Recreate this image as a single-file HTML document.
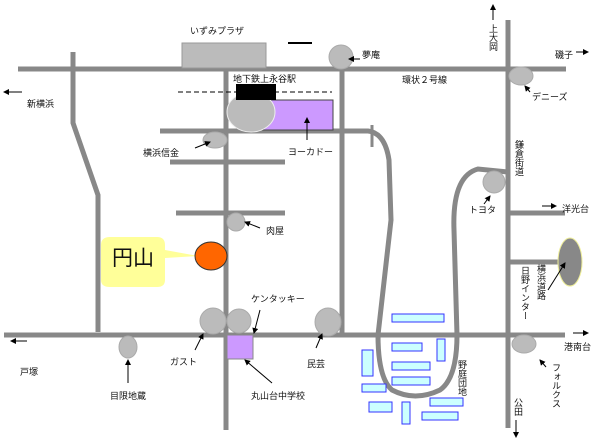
<!DOCTYPE html>
<html><head><meta charset="utf-8"><style>
html,body{margin:0;padding:0;background:#fff}
svg{display:block}
text{font-family:"Liberation Sans","Noto Sans CJK JP",sans-serif;font-size:9px;fill:#111}
</style></head><body>
<svg width="600" height="443" viewBox="0 0 600 443" xmlns="http://www.w3.org/2000/svg">
<defs><marker id="a" markerWidth="6" markerHeight="6" refX="5" refY="3" orient="auto"><path d="M0,0L6,3L0,6z" fill="#000"/></marker></defs>
<g stroke="#888" stroke-width="5" fill="none">
<line x1="18" y1="69" x2="566" y2="69"/>
<polyline points="73,52 73,123 98,195 98,332"/>
<line x1="226" y1="69" x2="226" y2="430"/>
<line x1="342" y1="69" x2="342" y2="335"/>
<line x1="508" y1="20" x2="508" y2="428"/>
<line x1="4" y1="335" x2="565" y2="335"/>
<line x1="160" y1="131" x2="345" y2="131"/>
<line x1="170" y1="162" x2="285" y2="162"/>
<line x1="176" y1="213" x2="285" y2="213"/>
<line x1="508" y1="213" x2="565" y2="213"/>
<line x1="508" y1="262" x2="558" y2="262"/>
<path d="M345,131 L368,131 Q385,133 389,160 L391,220 L378,335 Q378,378 392,390 Q415,402 440,390 Q457,378 457,335 L454,230 Q452,176 478,169 L508,172"/>
<line x1="372" y1="125" x2="372" y2="147" stroke-width="3"/>
</g>
<rect x="182" y="43" width="84" height="25" fill="#bbb" stroke="#999"/>
<line x1="288" y1="43" x2="312" y2="43" stroke="#000" stroke-width="2"/>
<line x1="178" y1="92" x2="332" y2="92" stroke="#000" stroke-dasharray="5,3"/>
<rect x="262" y="100" width="71" height="30" fill="#cc99ff" stroke="#444"/>
<ellipse cx="251" cy="112" rx="24" ry="20" fill="#bbb" stroke="#eee"/>
<rect x="236" y="84" width="40" height="16" fill="#000"/>
<g fill="#bbb" stroke="#aaa">
<circle cx="341" cy="57" r="12"/>
<ellipse cx="521" cy="76" rx="12" ry="9"/>
<circle cx="494" cy="182" r="11"/>
<ellipse cx="215" cy="140" rx="12" ry="8"/>
<circle cx="236" cy="222" r="9"/>
<circle cx="213" cy="321" r="13"/>
<circle cx="239" cy="321" r="12"/>
<ellipse cx="128" cy="347" rx="9" ry="11"/>
<ellipse cx="328" cy="322" rx="13" ry="14"/>
<ellipse cx="524" cy="344" rx="12" ry="9"/>
</g>
<rect x="227" y="335" width="26" height="24" fill="#cc99ff" stroke="#888"/>
<ellipse cx="570" cy="262" rx="12" ry="24" fill="#888" stroke="#ee9"/>
<path d="M110,237 H157 Q165,237 165,245 V250 L198,256 L165,258 V280 Q165,287 157,287 H110 Q101,287 101,280 V245 Q101,237 110,237z" fill="#ffff99"/>
<ellipse cx="211" cy="256" rx="16" ry="14" fill="#ff6600" stroke="#333"/>
<text x="112" y="265" style="font-size:21px">円山</text>
<g fill="#ccffff" stroke="#33f" stroke-width="1">
<rect x="392" y="314" width="52" height="8"/><rect x="392" y="343" width="30" height="8"/>
<rect x="437" y="339" width="8" height="22"/><rect x="362" y="350" width="11" height="26"/>
<rect x="392" y="362" width="38" height="8"/><rect x="392" y="377" width="38" height="8"/>
<rect x="362" y="384" width="24" height="8"/><rect x="430" y="398" width="33" height="8"/>
<rect x="369" y="402" width="23" height="10"/><rect x="402" y="402" width="8" height="22"/>
<rect x="422" y="412" width="36" height="8"/>
</g>
<g stroke="#000" stroke-width="1" marker-end="url(#a)">
<line x1="307" y1="140" x2="307" y2="118"/>
<line x1="360" y1="59" x2="349" y2="59"/>
<line x1="493" y1="20" x2="493" y2="5"/>
<line x1="576" y1="52" x2="588" y2="52"/>
<line x1="530" y1="92" x2="525" y2="86"/>
<line x1="484" y1="204" x2="490" y2="196"/>
<line x1="542" y1="206" x2="556" y2="206"/>
<line x1="195" y1="148" x2="210" y2="142"/>
<line x1="22" y1="92" x2="4" y2="92"/>
<line x1="260" y1="228" x2="245" y2="222"/>
<line x1="260" y1="310" x2="254" y2="333"/>
<line x1="195" y1="350" x2="203" y2="334"/>
<line x1="128" y1="383" x2="128" y2="360"/>
<line x1="272" y1="383" x2="245" y2="360"/>
<line x1="27" y1="341" x2="11" y2="341"/>
<line x1="316" y1="348" x2="322" y2="334"/>
<line x1="548" y1="290" x2="565" y2="263"/>
<line x1="573" y1="333" x2="588" y2="333"/>
<line x1="546" y1="367" x2="540" y2="360"/>
<line x1="516" y1="420" x2="516" y2="437"/>
</g>
<text x="190" y="34">いずみプラザ</text>
<text x="233" y="82">地下鉄上永谷駅</text>
<text x="288" y="155">ヨーカドー</text>
<text x="362" y="58">夢庵</text>
<text x="402" y="83">環状２号線</text>
<text x="555" y="58">磯子</text>
<text x="532" y="100">デニーズ</text>
<text x="469" y="213">トヨタ</text>
<text x="562" y="212">洋光台</text>
<text x="143" y="156">横浜信金</text>
<text x="27" y="107">新横浜</text>
<text x="266" y="234">肉屋</text>
<text x="251" y="302">ケンタッキー</text>
<text x="170" y="365">ガスト</text>
<text x="110" y="399">目限地蔵</text>
<text x="251" y="399">丸山台中学校</text>
<text x="20" y="375">戸塚</text>
<text x="307" y="367">民芸</text>
<text x="564" y="350">港南台</text>
<g style="writing-mode:vertical-rl">
<text x="493" y="24">上大岡</text>
<text x="519" y="140">鎌倉街道</text>
<text x="525" y="266">日野インター</text>
<text x="541" y="264">横浜道路</text>
<text x="556" y="363">フォルクス</text>
<text x="518" y="398">公田</text>
<text x="462" y="360">野庭団地</text>
</g>
</svg>
</body></html>
